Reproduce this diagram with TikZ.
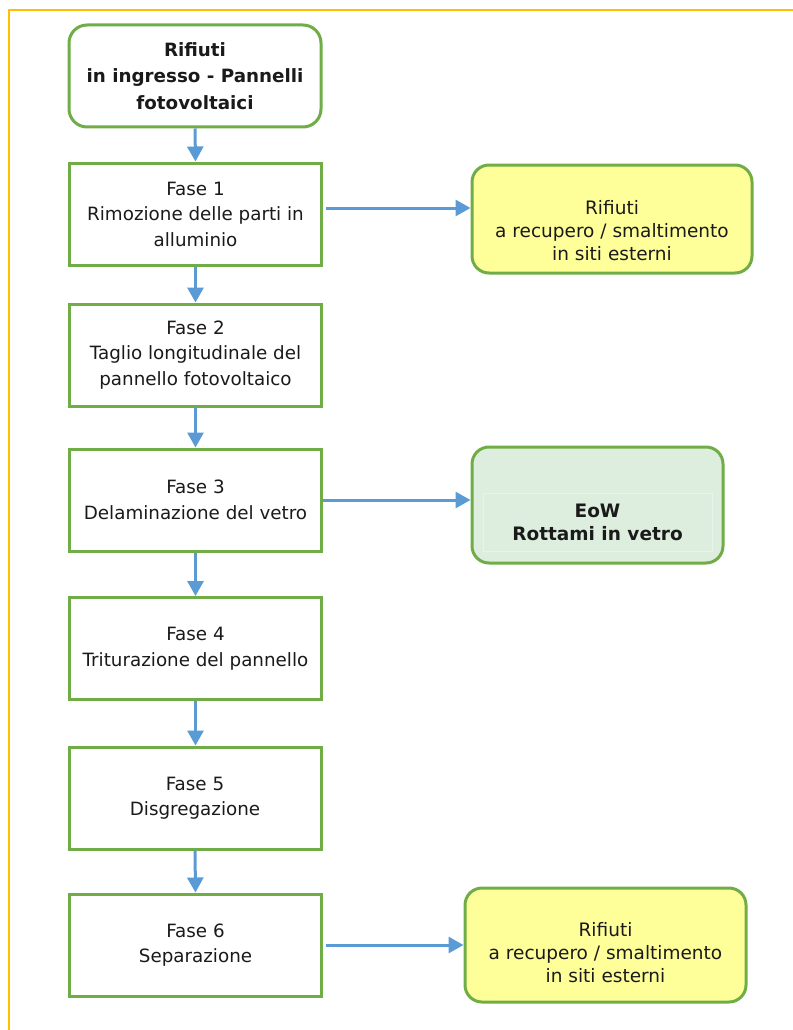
\documentclass[tikz,border=0pt]{standalone}
\usepackage{fontspec}
\setmainfont{DejaVu Sans}
\usetikzlibrary{arrows.meta}
\definecolor{gborder}{HTML}{70AD47}
\definecolor{arrowblue}{HTML}{5B9BD5}
\definecolor{frameyel}{HTML}{FFC000}
\definecolor{yfill}{HTML}{FFFF99}
\definecolor{efill}{HTML}{DDEEDF}
\definecolor{efaint}{HTML}{E9F3E9}
\definecolor{txt}{HTML}{1A1A1A}
\begin{document}
\begin{tikzpicture}[x=1pt,y=-1pt,
  phase/.style={draw=gborder, line width=3pt, fill=white, minimum width=252pt, minimum height=102pt,
    align=center, text=txt, font=\fontsize{18.3}{25.5}\selectfont, inner sep=0pt},
  startbox/.style={phase, rounded corners=18pt, font=\bfseries\fontsize{18.3}{26.5}\selectfont},
  outbox/.style={draw=gborder, line width=3pt, rounded corners=17pt, inner sep=0pt},
  outtext/.style={align=center, text=txt, font=\fontsize{18.5}{23}\selectfont, inner sep=0pt},
  arr/.style={draw=arrowblue, line width=3pt, -{Triangle[length=15pt,width=16pt]}}
]
\useasboundingbox (0,0) rectangle (792,1030);
\draw[frameyel, line width=2pt] (9,1032) -- (9,10) -- (794,10);

\node[startbox] (s) at (195,76) {Rifiuti\\in ingresso - Pannelli\\fotovoltaici};
\node[phase] (f1) at (195.5,214) {Fase 1\\Rimozione delle parti in\\alluminio};
\node[phase] (f2) at (195.5,355) {Fase 2\\Taglio longitudinale del\\pannello fotovoltaico};
\node[phase] (f3) at (195.5,500) {Fase 3\\Delaminazione del vetro};
\node[phase] (f4) at (195.5,648.5) {Fase 4\\Triturazione del pannello};
\node[phase] (f5) at (195,798) {Fase 5\\Disgregazione};
\node[phase] (f6) at (195.5,945) {Fase 6\\Separazione};

\node[outbox, fill=yfill, minimum width=280pt, minimum height=108pt] (r1) at (612,219) {};
\node[outtext] (r1t) at (612,231) {Rifiuti\\a recupero / smaltimento\\in siti esterni};

\node[outbox, fill=efill, minimum width=251pt, minimum height=116pt] (e) at (597.5,505) {};
\node[outtext, draw=efaint, line width=0.8pt, minimum width=229pt, minimum height=58pt, font=\bfseries\fontsize{18.5}{23}\selectfont] (et) at (597.5,522) {EoW\\Rottami in vetro};

\node[outbox, fill=yfill, minimum width=281pt, minimum height=114pt] (r3) at (605.5,945) {};
\node[outtext] (r3t) at (605.5,953) {Rifiuti\\a recupero / smaltimento\\in siti esterni};

\draw[arr] (s.south) -- (f1.north);
\draw[arr] (f1.south) -- (f2.north);
\draw[arr] (f2.south) -- (f3.north);
\draw[arr] (f3.south) -- (f4.north);
\draw[arr] (f4.south) -- (f4.south |- f5.north);
\draw[arr] (f5.south) -- (f6.north);

\draw[arr] ([xshift=3pt,yshift=6pt]f1.east) -- ([yshift=6pt]f1.east -| r1.west);
\draw[arr] (f3.east) -- (f3.east -| e.west);
\draw[arr] ([xshift=3pt]f6.east) -- (f6.east -| r3.west);
\end{tikzpicture}
\end{document}
